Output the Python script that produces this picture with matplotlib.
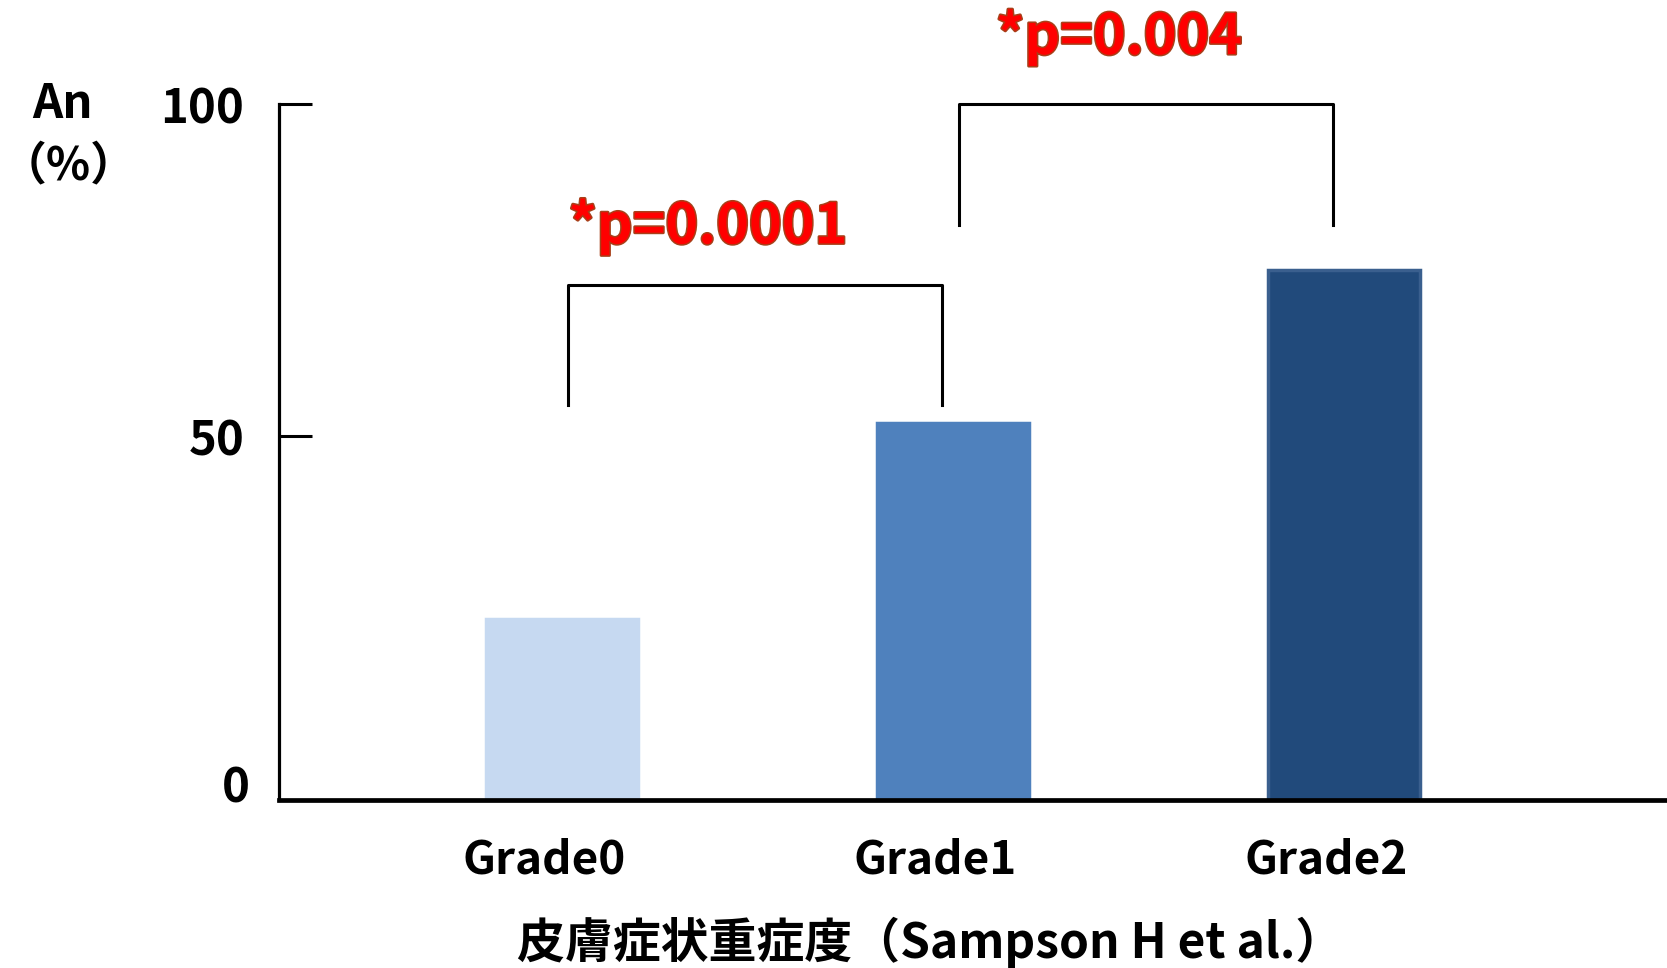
import matplotlib
matplotlib.use("Agg")
import matplotlib.pyplot as plt
import matplotlib.patheffects as pe
from matplotlib.transforms import ScaledTranslation

plt.rcParams['font.family'] = ['Noto Sans CJK JP', 'DejaVu Sans']
plt.rcParams['font.weight'] = 'bold'

# data
grades = ["Grade0", "Grade1", "Grade2"]
an_pct = [22.5, 52, 75]
bar_colors = ["#C6D9F1", "#4F81BD", "#214A7B"]
bar_edges = ["#C6D9F1", "#4F81BD", "#3A5F8E"]
p_labels = ["*p=0.0001", "*p=0.004"]
xlabel = "皮膚症状重症度（Sampson H et al.）"

W, H = 1667, 968
fig = plt.figure(figsize=(W / 100, H / 100), dpi=100)

# axes placed in pixel terms
left, bottom, right, top = 279, 968 - 799.5, 1667, 968 - 104
ax = fig.add_axes([left / W, bottom / H, (right - left) / W, (top - bottom) / H])

y_base = -4.7
ax.set_ylim(y_base, 100)
ax.set_xlim(-0.7245, 2.825)

x = list(range(len(grades)))
ax.bar(x, [v - y_base for v in an_pct], bottom=y_base, width=0.389,
       color=bar_colors, edgecolor=bar_edges, linewidth=2.5, zorder=2)

# spines
for s in ["top", "right"]:
    ax.spines[s].set_visible(False)
ax.spines["left"].set_linewidth(2.3)
ax.spines["bottom"].set_linewidth(3.4)

# y ticks: 50 and 100 have inward ticks, 0 only a label
ax.set_yticks([50, 100])
ax.set_yticklabels(["50", "100"])
ax.set_yticks([0], minor=True)
ax.set_yticklabels(["0"], minor=True)
ax.tick_params(axis="y", which="major", direction="in", length=23.5, width=2.2, pad=25, labelsize=34)
ax.tick_params(axis="y", which="minor", length=0, pad=21, labelsize=34)
for lab in ax.get_yticklabels(minor=True):
    lab.set_transform(lab.get_transform() + ScaledTranslation(0, -15 / 100, fig.dpi_scale_trans))

ax.set_xticks(x)
ax.set_xticklabels(grades)
ax.tick_params(axis="x", length=0, pad=27, labelsize=33)
for lab in ax.get_xticklabels():
    lab.set_transform(lab.get_transform() + ScaledTranslation(-18 / 100, 0, fig.dpi_scale_trans))
for lab in ax.get_yticklabels() + ax.get_yticklabels(minor=True) + ax.get_xticklabels():
    lab.set_fontweight("bold")

# significance brackets
ax.plot([0.015, 0.015, 0.971, 0.971], [54.7, 72.7, 72.7, 54.7], color="black", lw=2.2, clip_on=False)
ax.plot([1.015, 1.015, 1.971, 1.971], [81.8, 100, 100, 81.8], color="black", lw=2.2, clip_on=False)

outline = [pe.Stroke(linewidth=2.2, foreground="#A8401A"), pe.Normal()]
ax.text(0.373, 81.5, p_labels[0], color="#FF0000", fontsize=40, fontweight="bold",
        ha="center", va="center", path_effects=outline, clip_on=False)
ax.text(1.424, 110.0, p_labels[1], color="#FF0000", fontsize=40, fontweight="bold",
        ha="center", va="center", path_effects=outline, clip_on=False)

# y axis caption
fig.text(62.7 / W, 1 - 104 / H, "An", fontsize=34, fontweight="bold", ha="center", va="center")
fig.text(1 / W, 1 - 166 / H, "（%）", fontsize=33, fontweight="bold", ha="left", va="center")

fig.text(930 / W, 1 - 942 / H, xlabel, fontsize=34.5, fontweight="bold", ha="center", va="center")

fig.savefig("out.png", dpi=100)
